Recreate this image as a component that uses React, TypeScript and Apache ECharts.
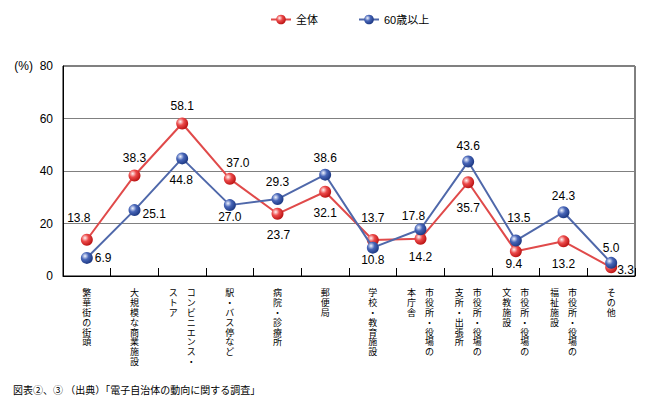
import React, { useEffect, useRef } from "react";
import * as echarts from "echarts";

const categories: string[] = [
  "繁華街の街頭",
  "大規模な商業施設",
  "コンビニエンス・\nストア",
  "駅・バス停など",
  "病院・診療所",
  "郵便局",
  "学校・教育施設",
  "市役所・役場の\n本庁舎",
  "市役所・役場の\n支所・出張所",
  "市役所・役場の\n文教施設",
  "市役所・役場の\n福祉施設",
  "その他",
];

const seriesNames = ["全体", "60歳以上"];
const allValues = [13.8, 38.3, 58.1, 37.0, 23.7, 32.1, 13.7, 14.2, 35.7, 9.4, 13.2, 3.3];
const seniorValues = [6.9, 25.1, 44.8, 27.0, 29.3, 38.6, 10.8, 17.8, 43.6, 13.5, 24.3, 5.0];

const yTicks = [0, 20, 40, 60, 80];
const yUnit = "(%)";
const footnote = "図表②、③ （出典）「電子自治体の動向に関する調査」";

// label placement (styling, kept apart from the values)
const allLabelPos = ["top", "top", "top", "top", "bottom", "bottom", "top", "bottom", "bottom", "bottom", "bottom", "right"];
const allLabelShift = [[-8, -5], [0, 0], [0, 0], [8, 1], [1, 4], [0, 4], [0, -5], [0, 1], [0, 9], [-2, -4], [0, 6], [-5, 3]];
const seniorLabelPos = ["right", "right", "bottom", "bottom", "top", "top", "bottom", "top", "top", "top", "top", "top"];
const seniorLabelShift = [[-3, 0], [-3, 4], [-1, 5], [0, -5], [0, 0], [0, 0], [0, -5], [-7, 4], [0, 1], [3, -6], [0, 1], [0, 2]];

const FONT = "'Liberation Sans', 'Noto Sans CJK JP', sans-serif";
const CJK = "'Noto Sans CJK JP', sans-serif";

function buildData(values: number[], pos: string[], shift: number[][]) {
  return values.map((v, i) => ({
    value: v,
    label: { position: pos[i], offset: shift[i] },
  }));
}

function verticalLabel(value: string): string {
  const cols = value.split("\n").map((c) => Array.from(c));
  const n = Math.max(...cols.map((c) => c.length));
  const lines: string[] = [];
  for (let i = 0; i < n; i++) {
    if (cols.length === 1) {
      lines.push(`{c|${cols[0][i] ?? "　"}}`);
    } else {
      lines.push(`{c|${cols[1][i] ?? "　"}}{g| }{c|${cols[0][i] ?? "　"}}`);
    }
  }
  return lines.join("\n");
}

export default function App() {
  const ref = useRef<HTMLDivElement>(null);

  useEffect(() => {
    if (!ref.current) return;
    const chart = echarts.init(ref.current, null, { renderer: "svg" });

    const redFill = new echarts.graphic.RadialGradient(0.35, 0.35, 0.75, [
      { offset: 0, color: "#fff4f4" },
      { offset: 0.4, color: "#ec4a4a" },
      { offset: 1, color: "#b00808" },
    ]);
    const blueFill = new echarts.graphic.RadialGradient(0.35, 0.35, 0.75, [
      { offset: 0, color: "#f2f5ff" },
      { offset: 0.4, color: "#4866b8" },
      { offset: 1, color: "#142f78" },
    ]);

    chart.setOption({
      animation: false,
      title: {
        text: footnote,
        left: 8,
        top: 379,
        textStyle: { fontSize: 10, fontWeight: "normal", color: "#000", fontFamily: CJK },
      },
      legend: {
        left: 265,
        top: 9,
        itemWidth: 20,
        itemHeight: 12,
        itemGap: 40,
        textStyle: { fontSize: 11, color: "#000", fontFamily: FONT },
        data: seriesNames,
      },
      grid: {
        left: 63,
        right: 11,
        top: 66,
        bottom: 122,
        show: true,
        borderColor: "#000",
        borderWidth: 1,
        backgroundColor: "transparent",
      },
      xAxis: {
        type: "category",
        data: categories,
        boundaryGap: true,
        axisLine: { show: true, lineStyle: { color: "#000", width: 1 } },
        axisTick: { show: true, inside: true, length: 8, lineStyle: { color: "#000" } },
        axisLabel: {
          interval: 0,
          margin: 12,
          color: "#000",
          formatter: verticalLabel,
          rich: {
            c: { width: 10, align: "center", fontSize: 9, lineHeight: 9.8, fontFamily: CJK, color: "#000" },
            g: { width: 8, fontSize: 9, lineHeight: 9.8 },
          },
        },
      },
      yAxis: {
        type: "value",
        min: yTicks[0],
        max: yTicks[yTicks.length - 1],
        interval: 20,
        axisLine: { show: true, lineStyle: { color: "#000", width: 1 } },
        axisTick: { show: false },
        axisLabel: {
          margin: 10,
          fontSize: 12,
          color: "#000",
          fontFamily: FONT,
          formatter: (v: number) => (v === yTicks[yTicks.length - 1] ? `${yUnit}  ${v}` : `${v}`),
        },
        splitLine: { show: true, lineStyle: { color: "#808080", width: 1 } },
      },
      series: [
        {
          name: seriesNames[0],
          type: "line",
          data: buildData(allValues, allLabelPos, allLabelShift),
          symbol: "circle",
          symbolSize: 12,
          itemStyle: { color: redFill },
          lineStyle: { color: "#e04a4a", width: 2 },
          label: {
            show: true,
            fontSize: 12,
            color: "#000",
            fontFamily: FONT,
            formatter: (p: any) => Number(p.value).toFixed(1),
          },
          z: 2,
        },
        {
          name: seriesNames[1],
          type: "line",
          data: buildData(seniorValues, seniorLabelPos, seniorLabelShift),
          symbol: "circle",
          symbolSize: 12,
          itemStyle: { color: blueFill },
          lineStyle: { color: "#4f68aa", width: 2 },
          label: {
            show: true,
            fontSize: 12,
            color: "#000",
            fontFamily: FONT,
            formatter: (p: any) => Number(p.value).toFixed(1),
          },
          z: 3,
        },
      ],
    });

    return () => chart.dispose();
  }, []);

  return (
    <div
      ref={ref}
      style={{ position: "fixed", left: 0, top: 0, width: 646, height: 398, background: "#fff" }}
    />
  );
}
